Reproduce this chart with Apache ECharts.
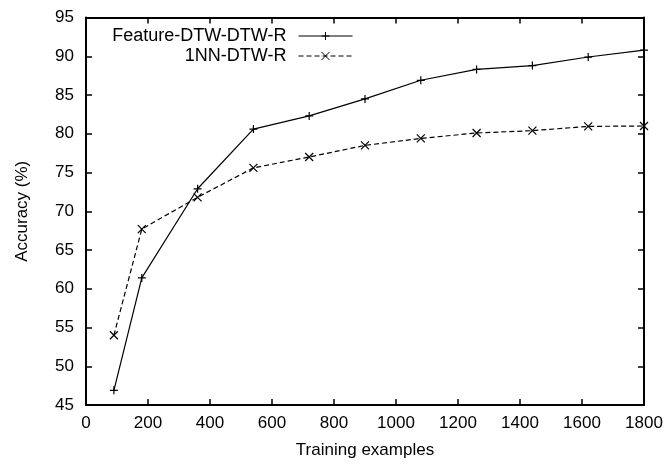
<!DOCTYPE html>
<html>
<head>
<meta charset="utf-8">
<script src="https://cdn.jsdelivr.net/npm/echarts@6/dist/echarts.min.js"></script>
<style>html,body{margin:0;padding:0;background:#fff;}#c{width:668px;height:464px;}</style>
</head>
<body>
<div id="c"></div>
<script>
const trainingExamples = [90, 180, 360, 540, 720, 900, 1080, 1260, 1440, 1620, 1800];
const featureDtw = [46.9, 61.4, 72.9, 80.6, 82.3, 84.5, 86.9, 88.3, 88.8, 89.9, 90.8];
const nnDtw = [54.0, 67.7, 71.8, 75.6, 77.0, 78.5, 79.4, 80.1, 80.4, 80.95, 81.0];
const seriesNames = ['Feature-DTW-DTW-R', '1NN-DTW-R'];
const xTitle = 'Training examples';
const yTitle = 'Accuracy (%)';

const FONT = '"Liberation Sans", Arial, Helvetica, sans-serif';
const PLUS = 'path://M0,5L10,5M5,0L5,10';
const CROSS = 'path://M0,0L10,10M10,0L0,10';

const chart = echarts.init(document.getElementById('c'), null, {renderer: 'canvas'});
const axisLine = {show: true, onZero: false, lineStyle: {color: '#000', width: 2}};
const axisTick = {show: true, inside: true, length: 6, lineStyle: {color: '#000', width: 1.5}};
const labelStyle = {color: '#000', fontFamily: FONT, fontSize: 17, formatter: v => String(v)};

chart.setOption({
  animation: false,
  backgroundColor: '#fff',
  grid: {left: 86, right: 24, top: 17.5, bottom: 58, containLabel: false},
  legend: {
    orient: 'vertical',
    align: 'right',
    right: 310,
    top: 22,
    itemWidth: 54,
    itemHeight: 10,
    itemGap: 2,
    lineStyle: {width: 1},
    itemStyle: {borderWidth: 1},
    textStyle: {color: '#000', fontFamily: FONT, fontSize: 18, lineHeight: 18, padding: [0, 7, 0, 0]},
    data: seriesNames
  },
  xAxis: [{
    type: 'value', min: 0, max: 1800, interval: 200, position: 'bottom',
    axisLine, axisTick, splitLine: {show: false},
    axisLabel: Object.assign({margin: 10}, labelStyle),
    name: xTitle, nameLocation: 'middle', nameGap: 37,
    nameTextStyle: {color: '#000', fontFamily: FONT, fontSize: 17}
  }, {
    type: 'value', min: 0, max: 1800, interval: 200, position: 'top',
    axisLine, axisTick, splitLine: {show: false}, axisLabel: {show: false}
  }],
  yAxis: [{
    type: 'value', min: 45, max: 95, interval: 5, position: 'left',
    axisLine, axisTick, splitLine: {show: false},
    axisLabel: Object.assign({margin: 12}, labelStyle),
    name: yTitle, nameLocation: 'middle', nameGap: 55,
    nameTextStyle: {color: '#000', fontFamily: FONT, fontSize: 17}
  }, {
    type: 'value', min: 45, max: 95, interval: 5, position: 'right',
    axisLine, axisTick, splitLine: {show: false}, axisLabel: {show: false}
  }],
  series: [{
    name: seriesNames[0], type: 'line',
    data: trainingExamples.map((x, i) => [x, featureDtw[i]]),
    symbol: PLUS, symbolSize: 8, showSymbol: true,
    lineStyle: {color: '#000', width: 1.2, type: 'solid'},
    itemStyle: {color: '#000', borderColor: '#000', borderWidth: 1.2},
    clip: false
  }, {
    name: seriesNames[1], type: 'line',
    data: trainingExamples.map((x, i) => [x, nnDtw[i]]),
    symbol: CROSS, symbolSize: 8, showSymbol: true,
    lineStyle: {color: '#000', width: 1.2, type: [5, 3]},
    itemStyle: {color: '#000', borderColor: '#000', borderWidth: 1.2},
    clip: false
  }]
});
</script>
</body>
</html>
